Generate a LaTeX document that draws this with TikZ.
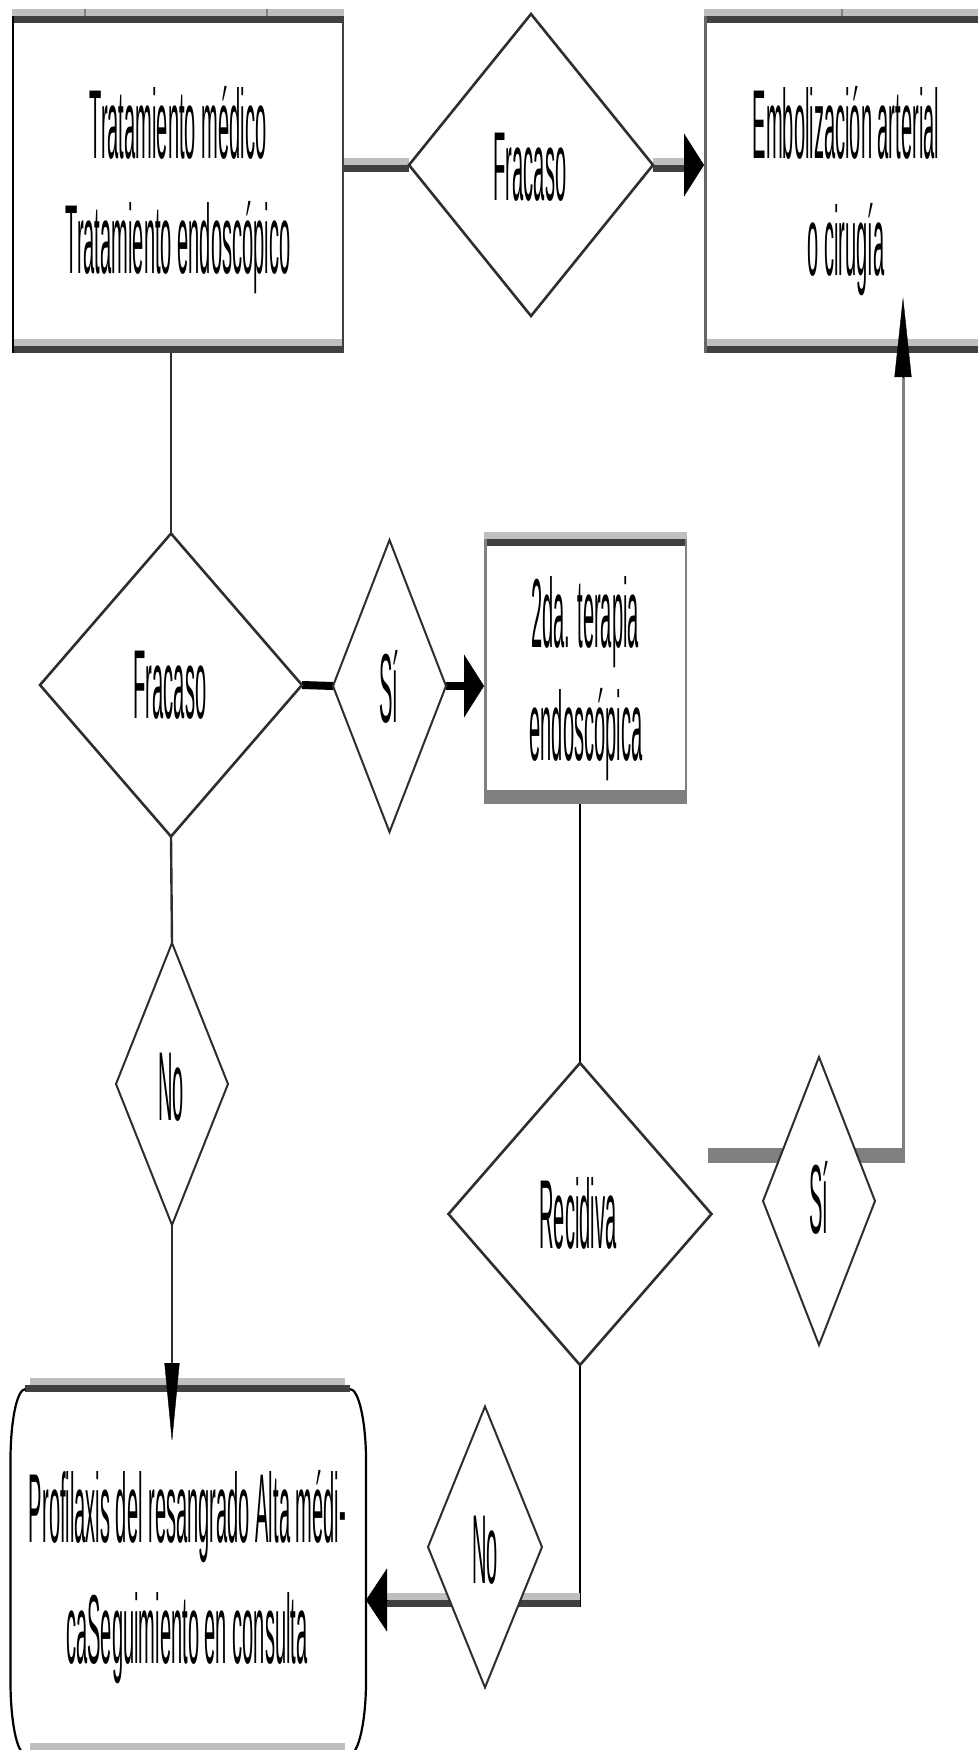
\documentclass[tikz,border=0pt]{standalone}
\usepackage{fontspec}
\newfontfamily\narrowsans[FakeStretch=0.205]{Liberation Sans}
\usetikzlibrary{arrows.meta,calc,shapes.geometric}
\definecolor{rimlight}{HTML}{BFBFBF}
\definecolor{rimdark}{HTML}{404040}
\definecolor{rimmid}{HTML}{808080}
\definecolor{outline}{HTML}{2E2E2E}
\pgfdeclarelayer{base}
\pgfdeclarelayer{links}
\pgfsetlayers{base,links,main}

% light band over dark band along the top and bottom edge of a box
\newcommand\toprims[1]{%
  \fill[rimlight] (#1.north west) rectangle ($(#1.north east)+(0,7)$);
  \fill[rimdark] ($(#1.north west)+(0,7)$) rectangle ($(#1.north east)+(0,14)$);}
\newcommand\bottomrims[1]{%
  \fill[rimlight] ($(#1.south west)+(0,-14)$) rectangle ($(#1.south east)+(0,-7)$);
  \fill[rimdark] ($(#1.south west)+(0,-7)$) rectangle (#1.south east);}

\begin{document}
\begin{tikzpicture}[x=1pt,y=-1pt,
  txt/.style={font=\narrowsans\fontsize{98pt}{117pt}\selectfont, anchor=base, inner sep=0pt, outer sep=0pt, text=black},
  frame/.style={rectangle, inner sep=0pt, outer sep=0pt},
  bigchoice/.style={diamond, inner sep=0pt, outer sep=0pt, draw=outline, fill=white, line width=2.6pt},
  smallchoice/.style={bigchoice, line width=2pt},
  upperband/.style={draw=rimlight, line width=7pt, transform canvas={yshift=3.5pt}},
  lowerband/.style={draw=rimdark, line width=7pt, transform canvas={yshift=-3.5pt}},
  solidband/.style={draw=black, line width=8pt},
  greyband/.style={draw=rimmid, line width=15pt},
  wire/.style={draw=outline, line width=2.4pt},
  blackwire/.style={draw=black, line width=2.2pt},
  greywire/.style={draw=rimmid, line width=3pt},
  tiph/.style={draw=black, line width=0.4pt, -{Triangle[length=20pt,width=63pt]}},
  tipv/.style={draw=black, line width=0.4pt, -{Triangle[length=80pt,width=16pt]}},
  tick/.style={draw=rimmid, line width=1.5pt}
]
\useasboundingbox (0,0) rectangle (977,1750);

% ---------- boxes ----------
\node[frame, minimum width=332pt, minimum height=344pt] (b1) at (178,181) {};
\node[frame, minimum width=286pt, minimum height=344pt] (b3) at (847,181) {};
\node[frame, minimum width=203pt, minimum height=272pt] (b2) at (585.5,668) {};
\node[frame, minimum width=355.5pt, minimum height=379pt] (p) at (188.25,1567.5) {};

% ---------- decisions ----------
\node[bigchoice, minimum width=244pt, minimum height=302pt] (d1) at (531,165) {};
\node[bigchoice, minimum width=262pt, minimum height=303pt] (d2) at (171,685) {};
\node[smallchoice, minimum width=113pt, minimum height=292pt] (s1) at (389.5,686) {};
\node[smallchoice, minimum width=112pt, minimum height=282pt] (n1) at (172,1084) {};
\node[bigchoice, minimum width=263pt, minimum height=302pt] (r) at (580,1214) {};
\node[smallchoice, minimum width=112pt, minimum height=288pt] (s2) at (819,1201) {};
\node[smallchoice, minimum width=114pt, minimum height=281pt] (n2) at (485,1547) {};

% ---------- texts ----------
\node[txt] (t1a) at (178,158) {Tratamiento médico};
\node[txt] (t1b) at (178,273) {Tratamiento endoscópico};
\node[txt] (t3a) at (846,158) {Embolización arterial};
\node[txt] (t3b) at (846,275) {o cirugía};
\node[txt] (t2a) at (585,647) {2da. terapia};
\node[txt] (t2b) at (586,760) {endoscópica};
\node[txt] (tpa) at (187.5,1542) {Profilaxis del resangrado Alta médi-};
\node[txt] (tpb) at (187,1663) {caSeguimiento en consulta};
\node[txt] (td1) at (530,200) {Fracaso};
\node[txt] (td2) at (170,718) {Fracaso};
\node[txt] (ts1) at (389,722) {Sí};
\node[txt] (tn1) at (171,1120) {No};
\node[txt] (tr) at (578,1248) {Recidiva};
\node[txt] (ts2) at (819,1233) {Sí};
\node[txt] (tn2) at (485,1583) {No};

% ---------- box rims ----------
\begin{pgfonlayer}{base}
  \fill[white] (0,0) rectangle (977,1750);
  % first box
  \toprims{b1}\bottomrims{b1}
  \draw[line width=2pt, black] ($(b1.north west)+(1,7)$) -- ($(b1.south west)+(1,0)$);
  \draw[line width=2.5pt, rimdark] ($(b1.north east)+(-1.25,7)$) -- ($(b1.south east)+(-1.25,0)$);
  \draw[tick] ($(b1.north west)+(73,0)$) -- ++(0,7);
  \draw[tick] ($(b1.north west)+(255,0)$) -- ++(0,7);
  % right box
  \toprims{b3}\bottomrims{b3}
  \draw[line width=2.5pt, draw=rimdark!80!white] ($(b3.north west)+(1.25,7)$) -- ($(b3.south west)+(1.25,0)$);
  \draw[tick] ($(b3.north west)+(138,0)$) -- ++(0,7);
  % second endoscopic box
  \toprims{b2}
  \fill[rimmid] ($(b2.south west)+(0,-14)$) rectangle (b2.south east);
  \draw[line width=2.5pt, rimmid] ($(b2.north west)+(1.25,7)$) -- ($(b2.south west)+(1.25,-7)$);
  \draw[line width=2.5pt, rimmid] ($(b2.north east)+(-1.25,7)$) -- ($(b2.south east)+(-1.25,-7)$);
  % rounded outcome box
  \fill[rimlight] ($(p.north west)+(19.5,0)$) rectangle ($(p.north east)+(-21,7)$);
  \fill[rimdark] ($(p.north west)+(14.5,7)$) rectangle ($(p.north east)+(-16,14)$);
  \fill[rimlight] ($(p.south west)+(19.5,-14)$) rectangle ($(p.south east)+(-21,-7)$);
  \fill[rimdark] ($(p.south west)+(14.5,-7)$) rectangle ($(p.south east)+(-16,0)$);
  \draw[line width=2.2pt, black]
    ($(p.north west)+(15,11)$) .. controls ($(p.north west)+(6,11)$) and ($(p.north west)+(0,45)$) .. ($(p.north west)+(0,82)$)
    -- ($(p.south west)+(0,-75)$) .. controls ($(p.south west)+(0,-38)$) and ($(p.south west)+(6,-3)$) .. ($(p.south west)+(15,-3)$);
  \draw[line width=2.2pt, black]
    ($(p.north east)+(-16,11)$) .. controls ($(p.north east)+(-7,11)$) and ($(p.north east)+(0,45)$) .. ($(p.north east)+(0,82)$)
    -- ($(p.south east)+(0,-75)$) .. controls ($(p.south east)+(0,-38)$) and ($(p.south east)+(-7,-3)$) .. ($(p.south east)+(-16,-3)$);
\end{pgfonlayer}

% ---------- connectors ----------
\begin{pgfonlayer}{links}
  % medical treatment -> first failure check
  \draw[upperband] (b1.east |- d1.west) -- (d1.west);
  \draw[lowerband] (b1.east |- d1.west) -- (d1.west);
  % failure -> embolization
  \coordinate (a1) at (b3.west |- d1.east);
  \draw[upperband] (d1.east) -- ($(a1)+(-20,0)$);
  \draw[lowerband] (d1.east) -- ($(a1)+(-20,0)$);
  \draw[tiph] ($(a1)+(-20,0)$) -- (a1);
  % treatment -> failure
  \draw[wire] (d2.north |- b1.south) -- (d2.north);
  % failure -> yes -> second therapy
  \draw[solidband] (d2.east) -- (s1.west);
  \coordinate (a2) at (b2.west |- s1.east);
  \draw[solidband] (s1.east) -- ($(a2)+(-18,0)$);
  \draw[tiph] ($(a2)+(-18,0)$) -- (a2);
  % failure -> no -> prophylaxis
  \draw[wire] (d2.south) -- (n1.north);
  \coordinate (a3) at ($(n1.south |- p.north)+(0,64)$);
  \draw[wire] (n1.south) -- ($(a3)+(0,-79)$);
  \draw[tipv, -{Triangle[length=79pt,width=15pt]}] ($(a3)+(0,-79)$) -- (a3);
  % second therapy -> recurrence
  \draw[blackwire] (r.north |- b2.south) -- (r.north);
  % recurrence -> no -> prophylaxis
  \coordinate (c1) at (r.south |- 0,1600);
  \draw[blackwire] (r.south) -- ($(c1)+(0,7)$);
  \coordinate (a4) at (p.east |- c1);
  \draw[upperband] (c1) -- ($(a4)+(21,0)$);
  \draw[lowerband] (c1) -- ($(a4)+(21,0)$);
  \draw[tiph, -{Triangle[length=21pt,width=63pt]}] ($(a4)+(21,0)$) -- (a4);
  % recurrence -> yes -> embolization
  \coordinate (g0) at (708,1155.5);
  \coordinate (g1) at (903,1155.5);
  \coordinate (a5) at ($(g1 |- b3.south)+(0,-56)$);
  \draw[greyband] (g0) -- ($(g1)+(1.5,0)$);
  \draw[greywire] ($(g1)+(0,-7.5)$) -- ($(a5)+(0,80)$);
  \draw[tipv, -{Triangle[length=80pt,width=17pt]}] ($(a5)+(0,80)$) -- (a5);
\end{pgfonlayer}
\end{tikzpicture}
\end{document}
